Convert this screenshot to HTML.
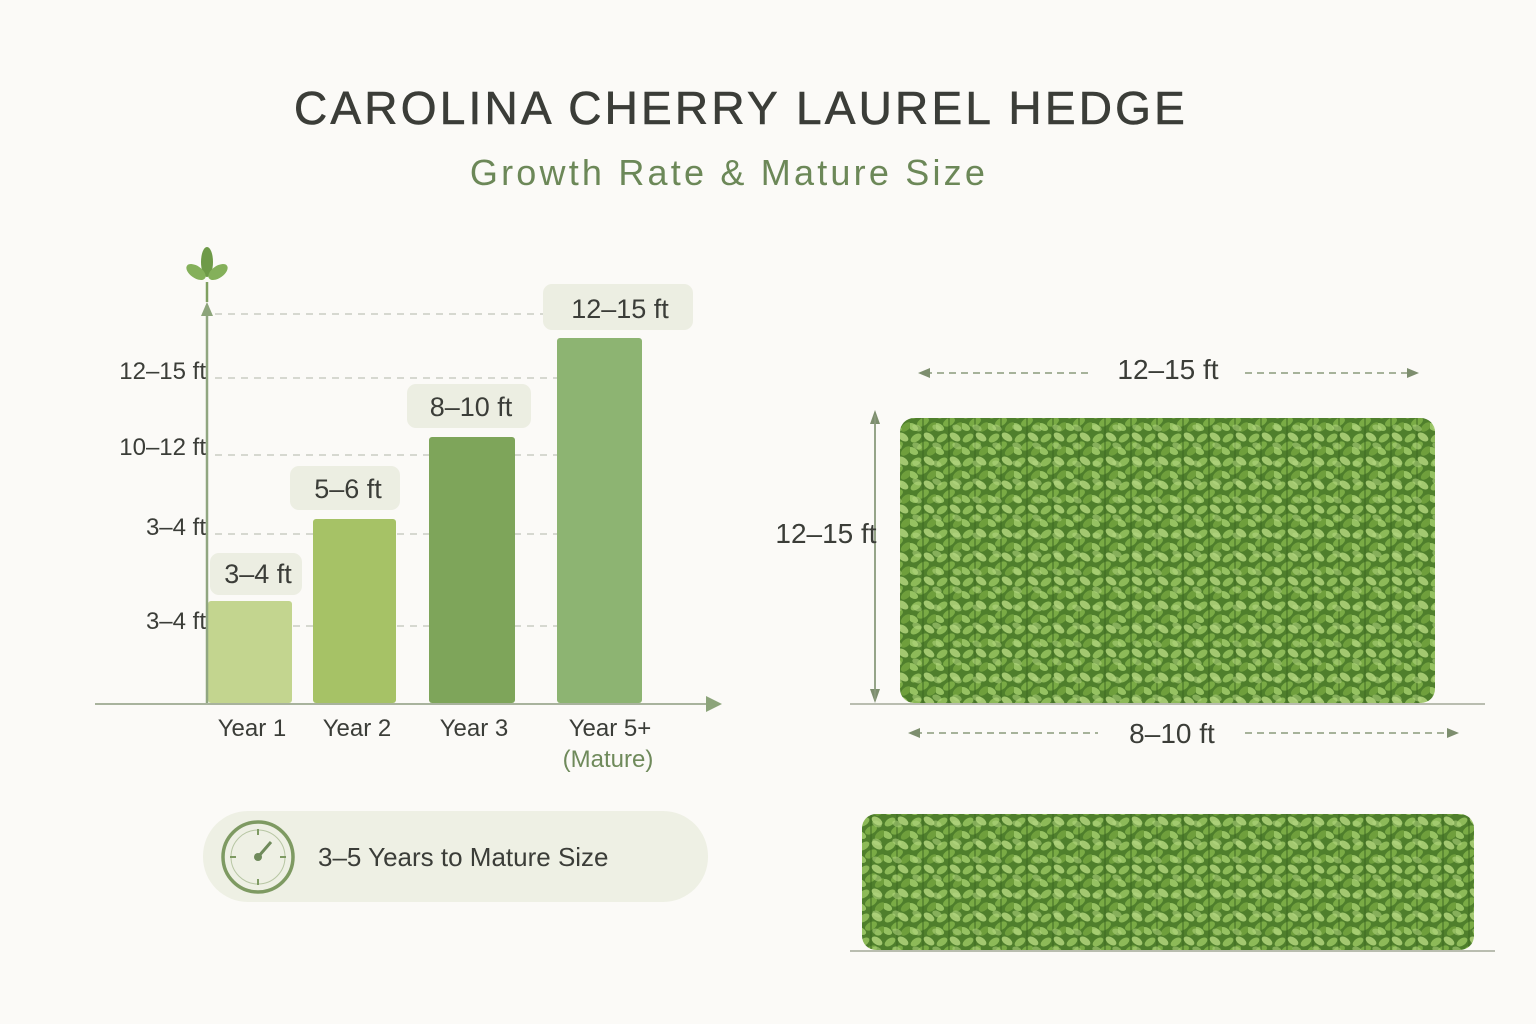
<!DOCTYPE html>
<html><head><meta charset="utf-8"><style>
body{margin:0;background:#fbfaf7;}
svg{display:block}
text{font-family:"Liberation Sans",sans-serif}
</style></head><body>
<svg width="1536" height="1024" viewBox="0 0 1536 1024">
<defs>
<pattern id="lv" width="26" height="24" patternUnits="userSpaceOnUse">
<rect width="26" height="24" fill="#4f7f2c"/>
<ellipse cx="6" cy="6" rx="6" ry="3.5" fill="#8dba58" transform="rotate(-35 6 6)"/>
<ellipse cx="19" cy="5" rx="6" ry="3.5" fill="#a3c870" transform="rotate(35 19 5)"/>
<ellipse cx="13" cy="14" rx="6.5" ry="3.8" fill="#7aab45" transform="rotate(-30 13 14)"/>
<ellipse cx="3" cy="19" rx="5.5" ry="3.3" fill="#96c262" transform="rotate(30 3 19)"/>
<ellipse cx="22" cy="19" rx="6" ry="3.5" fill="#6f9f3c" transform="rotate(-40 22 19)"/>
<line x1="13" y1="0" x2="13" y2="24" stroke="#3e6a22" stroke-width="1"/>
</pattern>
<pattern id="lv2" width="20" height="18" patternUnits="userSpaceOnUse" patternTransform="translate(7 5)">
<ellipse cx="10" cy="9" rx="5" ry="3" fill="#b3d680" opacity="0.55" transform="rotate(25 10 9)"/>
</pattern>
</defs>

<text x="741" y="124" text-anchor="middle" font-size="46" fill="#3b3d38" letter-spacing="3.2" stroke="#3b3d38" stroke-width="0.6">CAROLINA CHERRY LAUREL HEDGE</text>
<text x="729" y="185" text-anchor="middle" font-size="36" fill="#6c8858" letter-spacing="3.2">Growth Rate &amp; Mature Size</text>

<!-- grid -->
<g stroke="#c9ccc3" stroke-width="1.5" stroke-dasharray="7 6">
<line x1="215" y1="314" x2="545" y2="314"/>
<line x1="215" y1="378" x2="557" y2="378"/>
<line x1="215" y1="455" x2="557" y2="455"/>
<line x1="215" y1="534" x2="557" y2="534"/>
<line x1="215" y1="626" x2="557" y2="626"/>
</g>
<!-- bars -->
<rect x="208" y="601" width="84" height="102" rx="3" fill="#c3d58f"/>
<rect x="313" y="519" width="83" height="184" rx="3" fill="#a6c266"/>
<rect x="429" y="437" width="86" height="266" rx="3" fill="#7ea55a"/>
<rect x="557" y="338" width="85" height="365" rx="3" fill="#8db472"/>
<!-- axes -->
<line x1="207" y1="703" x2="207" y2="305" stroke="#90a680" stroke-width="2.5"/>
<line x1="95" y1="704" x2="712" y2="704" stroke="#a8b39d" stroke-width="2"/>
<polygon points="706,696 722,704 706,712" fill="#8ca47a"/>
<polygon points="201,316 207,302 213,316" fill="#8ca47a"/>
<line x1="207" y1="302" x2="207" y2="282" stroke="#7fa060" stroke-width="2.5"/>
<ellipse cx="207" cy="262" rx="6" ry="15" fill="#6e9a48"/>
<ellipse cx="196" cy="272" rx="11" ry="6" fill="#84b05a" transform="rotate(35 196 272)"/>
<ellipse cx="218" cy="272" rx="11" ry="6" fill="#84b05a" transform="rotate(-35 218 272)"/>
<!-- y labels -->
<g font-size="24" fill="#3b3d38" text-anchor="end">
<text x="206" y="379">12–15 ft</text>
<text x="206" y="455">10–12 ft</text>
<text x="206" y="535">3–4 ft</text>
<text x="206" y="629">3–4 ft</text>
</g>
<!-- value pills -->
<g fill="#eceee2">
<rect x="210" y="553" width="92" height="42" rx="9"/>
<rect x="290" y="466" width="110" height="44" rx="9"/>
<rect x="407" y="384" width="124" height="44" rx="9"/>
<rect x="543" y="284" width="150" height="46" rx="9"/>
</g>
<g font-size="27" fill="#3b3d38" text-anchor="middle">
<text x="258" y="583">3–4 ft</text>
<text x="348" y="498">5–6 ft</text>
<text x="471" y="416">8–10 ft</text>
<text x="620" y="318">12–15 ft</text>
</g>
<g font-size="24" fill="#3b3d38" text-anchor="middle">
<text x="252" y="736">Year 1</text>
<text x="357" y="736">Year 2</text>
<text x="474" y="736">Year 3</text>
<text x="610" y="736">Year 5+</text>
</g>
<text x="608" y="767" font-size="24" fill="#6f8a5b" text-anchor="middle">(Mature)</text>

<!-- pill -->
<rect x="203" y="811" width="505" height="91" rx="45" fill="#eef0e4"/>
<circle cx="258" cy="857" r="35" fill="none" stroke="#7e9a62" stroke-width="3.5"/>
<circle cx="258" cy="857" r="27" fill="none" stroke="#b7c6a3" stroke-width="1"/>
<g stroke="#7e9a62" stroke-width="2">
<line x1="258" y1="829" x2="258" y2="835"/><line x1="258" y1="879" x2="258" y2="885"/>
<line x1="230" y1="857" x2="236" y2="857"/><line x1="280" y1="857" x2="286" y2="857"/>
</g>
<line x1="258" y1="857" x2="271" y2="842" stroke="#6f8a5b" stroke-width="3"/>
<circle cx="258" cy="857" r="4" fill="#6f8a5b"/>
<text x="318" y="866" font-size="26" fill="#3b3d38">3–5 Years to Mature Size</text>

<!-- right hedge dims -->
<g stroke="#8a9a7c" stroke-width="1.5" stroke-dasharray="7 5">
<line x1="925" y1="373" x2="1092" y2="373"/><line x1="1245" y1="373" x2="1412" y2="373"/>
<line x1="915" y1="733" x2="1098" y2="733"/><line x1="1245" y1="733" x2="1452" y2="733"/>
</g>
<g fill="#7d8e6e">
<polygon points="918,373 930,368 930,378"/><polygon points="1419,373 1407,368 1407,378"/>
<polygon points="908,733 920,728 920,738"/><polygon points="1459,733 1447,728 1447,738"/>
<polygon points="875,410 870,424 880,424"/><polygon points="875,703 870,689 880,689"/>
</g>
<line x1="875" y1="415" x2="875" y2="700" stroke="#8a9a7c" stroke-width="1.8"/>
<g font-size="28" fill="#3b3d38" text-anchor="middle">
<text x="1168" y="379">12–15 ft</text>
<text x="1172" y="743">8–10 ft</text>
<text x="826" y="543">12–15 ft</text>
</g>

<rect x="900" y="418" width="535" height="285" rx="14" fill="url(#lv)"/>
<rect x="900" y="418" width="535" height="285" rx="14" fill="url(#lv2)"/>
<line x1="850" y1="704" x2="1485" y2="704" stroke="#b9bdb0" stroke-width="2"/>

<rect x="862" y="814" width="612" height="136" rx="14" fill="url(#lv)"/>
<rect x="862" y="814" width="612" height="136" rx="14" fill="url(#lv2)"/>
<line x1="850" y1="951" x2="1495" y2="951" stroke="#b9bdb0" stroke-width="2"/>
</svg>
</body></html>
